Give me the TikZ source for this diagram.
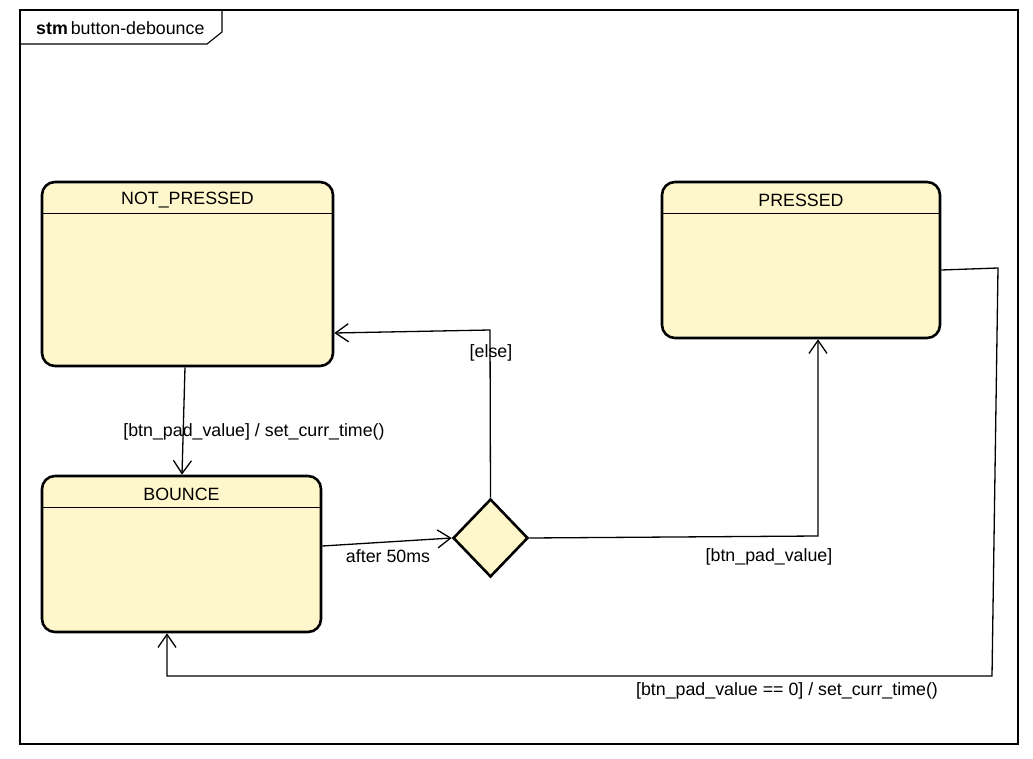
\documentclass[tikz,border=0pt]{standalone}
\usepackage{fontspec}
\setmainfont{Liberation Sans}
\usetikzlibrary{shapes.geometric,arrows.meta,calc}
\definecolor{statefill}{RGB}{255,247,204}
\begin{document}
\begin{tikzpicture}[x=1pt,y=-1pt,
  every node/.style={font=\fontsize{17.8}{20}\selectfont},
  state/.style={draw,line width=2.6pt,fill=statefill,rounded corners=13pt,inner sep=0pt},
  choice/.style={draw,line width=2.6pt,fill=statefill,diamond,inner sep=0pt,minimum width=75pt,minimum height=78pt},
  conn/.style={line width=1.3pt,-{Straight Barb[length=13pt,width=18pt,line width=1.3pt]}},
  lbl/.style={inner sep=1pt}]
\useasboundingbox (0,0) rectangle (1033,759);
% frame
\draw[line width=1.1pt] (20,10) rectangle (1018,744);
\draw[line width=1.1pt] (222,10) -- (222,32) -- (207,44) -- (20,44);
\node[anchor=base west,inner sep=0pt] (title) at (36,35) {\textbf{stm}\,button-debounce};
% states
\node[state,minimum width=291pt,minimum height=184pt] (np) at (187.5,274) {};
\draw[line width=1.1pt] ($(np.north west)+(0,33)$) -- ($(np.north east)+(0,33)$);
\node (npt) at ($(np.north)+(0,19.5)$) {NOT\_PRESSED};
\node[state,minimum width=278pt,minimum height=156pt] (pr) at (801,260) {};
\draw[line width=1.1pt] ($(pr.north west)+(0,33)$) -- ($(pr.north east)+(0,33)$);
\node (prt) at ($(pr.north)+(0,19.5)$) {PRESSED};
\node[state,minimum width=279pt,minimum height=156pt] (bo) at (181.5,554) {};
\draw[line width=1.1pt] ($(bo.north west)+(0,33)$) -- ($(bo.north east)+(0,33)$);
\node (bot) at ($(bo.north)+(0,19.5)$) {BOUNCE};
\node[choice] (dm) at (490.5,538) {};
% connectors
\draw[conn] ([xshift=-2.5pt]np.south) -- ([xshift=0.5pt]bo.north);
\node[lbl] (l1) at (254,432) {[btn\_pad\_value] / set\_curr\_time()};
\draw[conn] (bo.east |- 0,546) -- (dm.west);
\node[lbl] (l2) at (388,556) {after 50ms};
\coordinate (e1) at (490,330);
\draw[conn] (dm.north) -- (e1) -- (np.east |- 0,333);
\node[lbl] (l3) at (491,353) {[else]};
\coordinate (p1) at (818,536);
\draw[conn] (dm.east) -- (p1) -- (pr.south -| 818,0);
\node[lbl] (l4) at (769,557) {[btn\_pad\_value]};
\coordinate (r1) at (998,268);
\coordinate (r2) at (992,676);
\coordinate (r3) at (167,676);
\draw[conn] (pr.east |- 0,270) -- (r1) -- (r2) -- (r3) -- (bo.south -| 167,0);
\node[lbl] (l5) at (787,691) {[btn\_pad\_value == 0] / set\_curr\_time()};
\end{tikzpicture}
\end{document}
